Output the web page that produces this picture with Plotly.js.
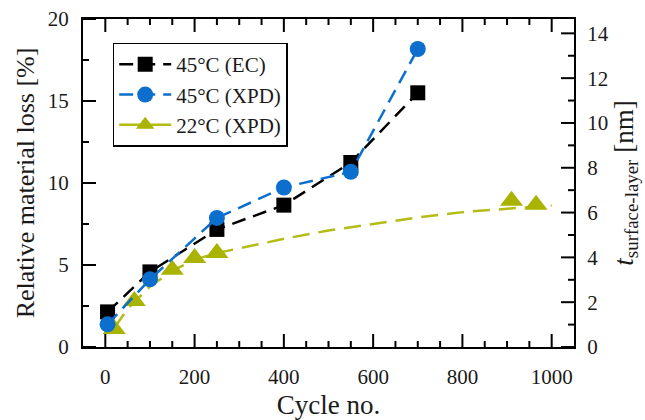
<!DOCTYPE html>
<html>
<head>
<meta charset="utf-8">
<script src="https://cdn.plot.ly/plotly-3.0.1.min.js"></script>
<style>html,body{margin:0;padding:0;background:#fff}#chart{width:645px;height:420px}</style>
</head>
<body>
<div id="chart"></div>
<script>
// 45°C (EC): relative material loss [%]
const cyclesEC = [5, 100, 250, 400, 550, 700];
const lossEC = [2.14, 4.58, 7.17, 8.65, 11.25, 15.5];
// 45°C (XPD): surface-layer thickness [nm]
const cyclesXPD45 = [5, 100, 250, 400, 550, 700];
const thickXPD45 = [1.01, 3.02, 5.76, 7.12, 7.82, 13.3];
// 22°C (XPD): surface-layer thickness [nm]
const cyclesXPD22 = [20, 65, 150, 200, 250, 910, 965];
const thickXPD22 = [0.8, 2.05, 3.45, 3.97, 4.2, 6.53, 6.35];
// 22°C trend curve
const trendCycles22 = [20, 50, 100, 150, 200, 250, 300, 400, 500, 600, 700, 800, 900, 1000];
const trendThick22 = [0.85, 1.7, 2.7, 3.4, 3.9, 4.2, 4.4, 4.83, 5.2, 5.5, 5.78, 6.02, 6.18, 6.32];
// axis ranges and tick values
const xRange = [-50, 1050], yRange = [0, 20], y2Range = [0, 14.64];
const xTicks = [0, 200, 400, 600, 800, 1000];
const xMinorTicks = [50, 100, 150, 250, 300, 350, 450, 500, 550, 650, 700, 750, 850, 900, 950];
const yTicks = [0, 5, 10, 15, 20];
const yMinorTicks = [2.5, 7.5, 12.5, 17.5];
const y2Ticks = [0, 2, 4, 6, 8, 10, 12, 14];
const y2MinorTicks = [1, 3, 5, 7, 9, 11, 13];

const FONT = 'Liberation Serif, Times New Roman, serif';
const BLACK = '#000000', BLUE = '#0c6fcd', OLIVE = '#a9b300', OLIVE_LINE = '#b3bc14';
const W = 645, H = 420, M = {l: 83, r: 71, t: 19, b: 73};
const MAJ = 13, MIN = 6;   // tick lengths in pixels

// data units per pixel, from the axis ranges and the plot size
const plotW = W - M.l - M.r, plotH = H - M.t - M.b;
const xPerPx = (xRange[1] - xRange[0]) / plotW;
const yPerPx = (yRange[1] - yRange[0]) / plotH;
const y2PerPx = (y2Range[1] - y2Range[0]) / plotH;

const isoX = [], isoY = [];
cyclesXPD22.forEach((c, i) => { if (i) { isoX.push(null); isoY.push(null); } isoX.push(c); isoY.push(thickXPD22[i]); });

// inside tick marks as short line segments placed through the axes' scales
function segs() { return {x: [], y: []}; }
function add(s, x0, y0, x1, y1) { s.x.push(x0, x1, null); s.y.push(y0, y1, null); }
const tx = segs(), ty = segs(), ty2 = segs();
function xt(v, len) {
  add(tx, v, yRange[0], v, yRange[0] + len * yPerPx);
  add(tx, v, yRange[1], v, yRange[1] - len * yPerPx);
}
xTicks.forEach(v => xt(v, MAJ));
xMinorTicks.forEach(v => xt(v, MIN));
yTicks.forEach(v => add(ty, xRange[0], v, xRange[0] + MAJ * xPerPx, v));
yMinorTicks.forEach(v => add(ty, xRange[0], v, xRange[0] + MIN * xPerPx, v));
y2Ticks.forEach(v => add(ty2, xRange[1], v, xRange[1] - MAJ * xPerPx, v));
y2MinorTicks.forEach(v => add(ty2, xRange[1], v, xRange[1] - MIN * xPerPx, v));
function tickTrace(s, yaxis) {
  return {x: s.x, y: s.y, mode: 'lines', yaxis: yaxis, showlegend: false, hoverinfo: 'skip',
          connectgaps: false, line: {color: '#000', width: 2}};
}

const traces = [
  tickTrace(tx, 'y'),
  tickTrace(ty, 'y'),
  {x: cyclesEC, y: lossEC, name: '45°C (EC)', mode: 'lines+markers', yaxis: 'y', legendrank: 1,
   line: {color: BLACK, width: 2.5, dash: '14px,8px'},
   marker: {symbol: 'square', size: 15, color: BLACK}},
  tickTrace(ty2, 'y2'),
  {x: trendCycles22, y: trendThick22, name: 'trend', mode: 'lines', yaxis: 'y2', showlegend: false,
   line: {color: OLIVE_LINE, width: 2.5, dash: '17px,9px'}, hoverinfo: 'skip'},
  {x: isoX, y: isoY, name: '22°C (XPD)', mode: 'lines+markers', yaxis: 'y2', legendrank: 3, connectgaps: false,
   line: {color: OLIVE_LINE, width: 2.5},
   marker: {symbol: 'triangle-up', size: 20, color: OLIVE}},
  {x: cyclesXPD45, y: thickXPD45, name: '45°C (XPD)', mode: 'lines+markers', yaxis: 'y2', legendrank: 2,
   line: {color: BLUE, width: 2.5, dash: '14px,8px'},
   marker: {symbol: 'circle', size: 16, color: BLUE}}
];

const axBase = {
  showgrid: false, zeroline: false, showline: true, linecolor: '#000', linewidth: 2,
  ticks: 'outside', ticklen: 13, tickwidth: 1, tickcolor: 'rgba(0,0,0,0)',
  tickfont: {family: FONT, size: 21, color: '#1a1a1a'}
};

const layout = {
  width: W, height: H,
  margin: M,
  paper_bgcolor: '#fff', plot_bgcolor: 'rgba(0,0,0,0)',
  showlegend: true,
  legend: {x: 0.0605, y: 0.928, xanchor: 'left', yanchor: 'top', bgcolor: '#fff',
           bordercolor: '#000', borderwidth: 1.5, itemwidth: 52,
           font: {family: FONT, size: 21, color: '#1a1a1a'}, tracegroupgap: 0},
  xaxis: Object.assign({}, axBase, {
    range: xRange, tickmode: 'array', tickvals: xTicks, ticktext: xTicks.map(String),
    mirror: true, ticklen: 10,
    title: {text: 'Cycle no.', font: {family: FONT, size: 27, color: '#1a1a1a'}, standoff: 8}
  }),
  yaxis: Object.assign({}, axBase, {
    range: yRange, tickmode: 'array', tickvals: yTicks, ticktext: yTicks.map(String), ticklen: 8,
    title: {text: 'Relative material loss [%]', font: {family: FONT, size: 26, color: '#1a1a1a'}, standoff: 6}
  }),
  yaxis2: Object.assign({}, axBase, {
    overlaying: 'y', side: 'right', range: y2Range, tickmode: 'array', tickvals: y2Ticks, ticktext: y2Ticks.map(String), ticklen: 7,
    title: {text: '<i>t</i><sub>surface-layer</sub> [nm]', font: {family: FONT, size: 27, color: '#1a1a1a'}, standoff: 6}
  })
};

Plotly.newPlot('chart', traces, layout, {staticPlot: true, displayModeBar: false});
</script>
</body>
</html>
